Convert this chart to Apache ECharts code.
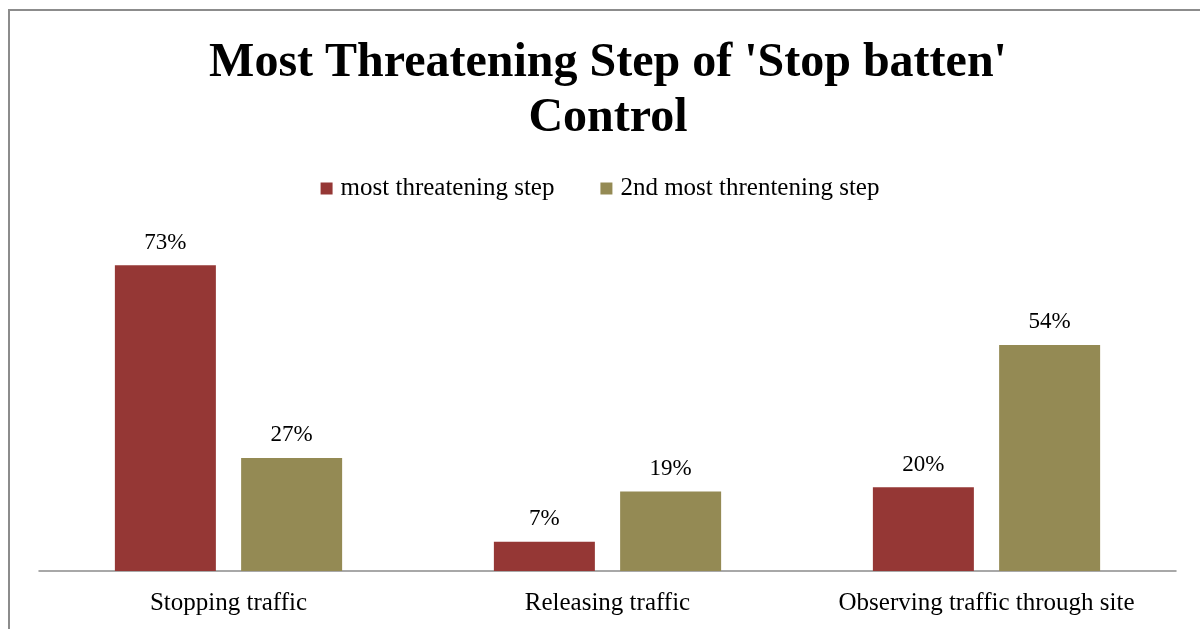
<!DOCTYPE html>
<html>
<head>
<meta charset="utf-8">
<script src="https://cdn.jsdelivr.net/npm/echarts@6/dist/echarts.min.js"></script>
<style>
  html, body { margin: 0; padding: 0; background: #fff; }
  #chart { width: 1200px; height: 629px; }
</style>
</head>
<body>
<div id="chart"></div>
<script>
const categories = ["Stopping traffic", "Releasing traffic", "Observing traffic through site"];
const mostThreatening = [73, 7, 20];
const secondThreatening = [27, 19, 54];

document.addEventListener("DOMContentLoaded", function () {
  const myChart = echarts.init(document.getElementById("chart"));
  const serif = "'Liberation Serif', 'Times New Roman', serif";
  const labelStyle = {
    show: true,
    position: "top",
    distance: 11,
    formatter: "{c}%",
    color: "#000",
    fontFamily: serif,
    fontSize: 23,
  };
  const option = {
    animation: false,
    backgroundColor: "#fff",
    title: {
      text: "Most Threatening Step of 'Stop batten'\nControl",
      left: 603,
      top: 31,
      textAlign: "center",
      textStyle: {
        fontFamily: serif,
        fontWeight: "bold",
        fontSize: 48,
        lineHeight: 55,
        color: "#000",
      },
    },
    legend: {
      top: 171,
      left: "center",
      itemWidth: 12,
      itemHeight: 12,
      itemGap: 46,
      icon: "rect",
      textStyle: {
        fontFamily: serif,
        fontSize: 25,
        color: "#000",
        padding: [0, 0, 0, 3],
      },
    },
    graphic: [
      {
        type: "rect",
        shape: { x: 9, y: 10, width: 1250, height: 700 },
        style: { fill: "none", stroke: "#8c8c8c", lineWidth: 2 },
        silent: true,
      },
    ],
    grid: {
      left: 39,
      right: 24,
      top: 236,
      bottom: 58,
    },
    xAxis: {
      type: "category",
      data: categories,
      axisLine: { lineStyle: { color: "#8c8c8c", width: 1.5 } },
      axisTick: { show: false },
      axisLabel: {
        interval: 0,
        margin: 20,
        color: "#000",
        fontFamily: serif,
        fontSize: 25,
      },
    },
    yAxis: {
      type: "value",
      min: 0,
      max: 80,
      show: false,
      splitLine: { show: false },
    },
    series: [
      {
        name: "most threatening step",
        type: "bar",
        data: mostThreatening,
        barWidth: 101,
        barGap: "25%",
        itemStyle: { color: "#953735" },
        label: labelStyle,
      },
      {
        name: "2nd most threntening step",
        type: "bar",
        data: secondThreatening,
        barWidth: 101,
        itemStyle: { color: "#948a54" },
        label: labelStyle,
      },
    ],
  };
  myChart.setOption(option);
  window.addEventListener("resize", function () {
    myChart.resize();
  });
});
</script>
</body>
</html>
